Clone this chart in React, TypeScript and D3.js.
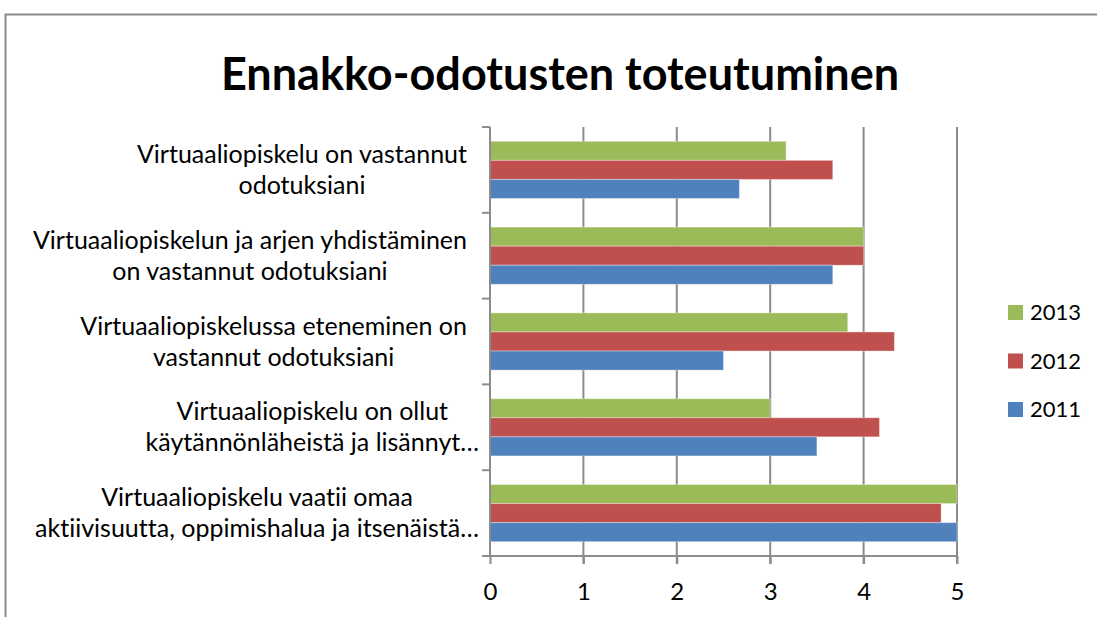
import React, { useEffect, useRef } from 'react';
import * as d3 from 'd3';

// category labels, already wrapped / cut the way the spreadsheet shows them
const categories = [
  ['Virtuaaliopiskelu on vastannut', 'odotuksiani'],
  ['Virtuaaliopiskelun ja arjen yhdistäminen', 'on vastannut odotuksiani'],
  ['Virtuaaliopiskelussa eteneminen on', 'vastannut odotuksiani'],
  ['Virtuaaliopiskelu on ollut', 'käytännönläheistä ja lisännyt…'],
  ['Virtuaaliopiskelu vaatii omaa', 'aktiivisuutta, oppimishalua ja itsenäistä…'],
];
const seriesNames = ['2013', '2012', '2011'];
const values2013 = [3.17, 4.0, 3.83, 3.0, 5.0];
const values2012 = [3.67, 4.0, 4.33, 4.17, 4.83];
const values2011 = [2.67, 3.67, 2.5, 3.5, 5.0];
const xTicks = [0, 1, 2, 3, 4, 5];

const colors = ['#9BBB59', '#C0504D', '#4F81BD'];
const FONT = 'Lato, "Open Sans", sans-serif';

export default function App() {
  const ref = useRef<SVGSVGElement>(null);

  useEffect(() => {
    document.body.style.margin = '0';
    const svg = d3.select(ref.current);
    svg.selectAll('*').remove();
    svg.style('font-variant-ligatures', 'none');

    const seriesValues = [values2013, values2012, values2011];

    // chart frame (only top and left edges are in view)
    svg.append('path')
      .attr('d', 'M5.5,620 L5.5,14.5 L1100,14.5')
      .attr('fill', 'none')
      .attr('stroke', '#8a8a8a')
      .attr('stroke-width', 2);

    // title
    svg.append('text')
      .attr('x', 560)
      .attr('y', 90)
      .attr('text-anchor', 'middle')
      .attr('font-family', FONT)
      .attr('font-weight', 'bold')
      .attr('font-size', 45)
      .attr('fill', '#000')
      .text('Ennakko-odotusten toteutuminen');

    // scales
    const x = d3.scaleLinear().domain([0, 5]).range([490, 957]);
    const y = d3.scaleBand<number>()
      .domain(d3.range(categories.length))
      .range([127, 556])
      .paddingInner(1.5 / 4.5)
      .paddingOuter(0.75 / 4.5);
    const ySub = d3.scaleBand<number>()
      .domain(d3.range(seriesNames.length))
      .range([0, y.bandwidth()]);

    const bounds = d3.range(categories.length + 1).map(i => y.range()[0] + i * y.step());
    const top = bounds[0], bottom = bounds[bounds.length - 1];

    // vertical gridlines
    svg.append('g')
      .selectAll('line')
      .data(xTicks.slice(1))
      .enter()
      .append('line')
      .attr('x1', d => x(d))
      .attr('x2', d => x(d))
      .attr('y1', top)
      .attr('y2', bottom + 8)
      .attr('stroke', '#8c8c8c')
      .attr('stroke-width', 2);

    // bars
    seriesValues.forEach((vals, s) => {
      svg.append('g')
        .selectAll('rect')
        .data(vals)
        .enter()
        .append('rect')
        .attr('x', x(0))
        .attr('y', (d, i) => (y(i) as number) + (ySub(s) as number))
        .attr('width', d => x(d) - x(0))
        .attr('height', ySub.bandwidth())
        .attr('fill', colors[s])
        .attr('stroke', 'rgba(255,255,255,0.35)')
        .attr('stroke-width', 1);
    });

    // value axis
    const xAxis = svg.append('g')
      .attr('transform', `translate(0, ${bottom})`)
      .call(d3.axisBottom(x).tickValues(xTicks).tickFormat(d3.format('d')).tickSize(8).tickSizeOuter(0).tickPadding(19));
    xAxis.select('.domain').remove();
    xAxis.selectAll('line').attr('stroke', '#8c8c8c').attr('stroke-width', 2);
    xAxis.selectAll('text')
      .attr('font-family', FONT)
      .attr('font-size', 24)
      .attr('fill', '#000')
      .attr('dy', '0.71em');
    svg.append('line')
      .attr('x1', x(0) - 8)
      .attr('x2', x(5))
      .attr('y1', bottom)
      .attr('y2', bottom)
      .attr('stroke', '#8c8c8c')
      .attr('stroke-width', 2);

    // category axis with ticks between groups
    svg.append('line')
      .attr('x1', x(0))
      .attr('x2', x(0))
      .attr('y1', top)
      .attr('y2', bottom)
      .attr('stroke', '#8c8c8c')
      .attr('stroke-width', 2);
    svg.append('g')
      .selectAll('line')
      .data(bounds)
      .enter()
      .append('line')
      .attr('x1', x(0) - 8)
      .attr('x2', x(0))
      .attr('y1', d => d)
      .attr('y2', d => d)
      .attr('stroke', '#8c8c8c')
      .attr('stroke-width', 2);

    // category labels: lines centred on each other, block right aligned
    categories.forEach((lines, i) => {
      const cy = (y(i) as number) + y.bandwidth() / 2;
      const cut = lines.some(l => l.endsWith('…'));
      const labelRight = cut ? 479 : 467;
      const g = svg.append('g');
      const texts = g.selectAll('text')
        .data(lines)
        .enter()
        .append('text')
        .attr('y', (d, k) => cy - 7 + k * 31)
        .attr('text-anchor', 'middle')
        .attr('font-family', FONT)
        .attr('font-size', 25)
        .attr('fill', '#000')
        .text(d => d);
      let w = 0;
      texts.each(function () {
        w = Math.max(w, (this as SVGTextElement).getComputedTextLength());
      });
      texts.attr('x', labelRight - w / 2);
    });

    // legend
    const legend = svg.append('g');
    seriesNames.forEach((name, s) => {
      const ly = 305 + s * 48.5;
      legend.append('rect')
        .attr('x', 1008)
        .attr('y', ly)
        .attr('width', 15)
        .attr('height', 15)
        .attr('fill', colors[s]);
      legend.append('text')
        .attr('x', 1030)
        .attr('y', ly + 15)
        .attr('font-family', FONT)
        .attr('font-size', 22)
        .attr('fill', '#000')
        .text(name);
    });
  }, []);

  return (
    <svg ref={ref} width={1097} height={617} style={{ display: 'block', background: '#fff' }} />
  );
}
